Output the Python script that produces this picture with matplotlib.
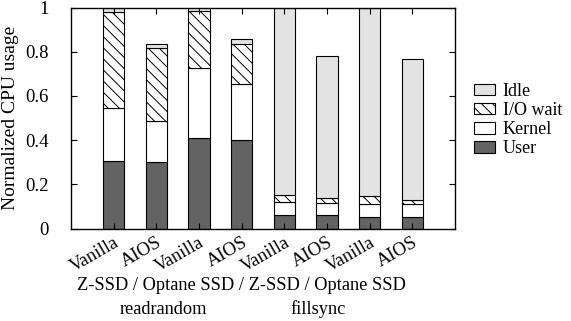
import matplotlib
matplotlib.use("Agg")
import matplotlib.pyplot as plt
import numpy as np

plt.rcParams['font.family'] = ['Liberation Serif', 'DejaVu Serif']
plt.rcParams['hatch.linewidth'] = 0.7

labels = ["Vanilla", "AIOS", "Vanilla", "AIOS", "Vanilla", "AIOS", "Vanilla", "AIOS"]
user = [0.305, 0.300, 0.411, 0.399, 0.062, 0.062, 0.054, 0.054]
kernel = [0.238, 0.188, 0.313, 0.254, 0.057, 0.055, 0.058, 0.055]
iowait = [0.438, 0.331, 0.260, 0.184, 0.031, 0.022, 0.036, 0.022]
idle = [0.019, 0.018, 0.016, 0.019, 0.850, 0.642, 0.852, 0.635]
devices_label = "Z-SSD / Optane SSD / Z-SSD / Optane SSD"
workloads = ["readrandom", "fillsync"]

fs = 13.2
fig = plt.figure(figsize=(5.71, 3.21), dpi=100)
ax = fig.add_axes([71/571, 1-228.5/321, (455-71)/571, (228.5-7.5)/321])

x = np.arange(1, len(labels)+1)
w = 0.5
b1 = np.array(user)
b2 = b1 + np.array(kernel)
b3 = b2 + np.array(iowait)
h_user = ax.bar(x, user, w, color='#636363', edgecolor='black', linewidth=0.8, label='User')
h_kern = ax.bar(x, kernel, w, bottom=b1, color='white', edgecolor='black', linewidth=0.8, label='Kernel')
h_io = ax.bar(x, iowait, w, bottom=b2, color='white', edgecolor='black', linewidth=0.8, hatch='\\\\\\', label='I/O wait')
h_idle = ax.bar(x, idle, w, bottom=b3, color='#e3e3e3', edgecolor='black', linewidth=0.8, label='Idle')

ax.set_xlim(0, len(labels)+1)
ax.set_ylim(0, 1)
ax.set_yticks([0, 0.2, 0.4, 0.6, 0.8, 1.0])
ax.set_yticklabels(['0', '0.2', '0.4', '0.6', '0.8', '1'], fontsize=13.5)
ax.set_xticks(x)
ax.set_xticklabels(labels, rotation=30, ha='right', rotation_mode='anchor', fontsize=13.5)
ax.tick_params(direction='in', top=True, right=True, length=4, width=0.8)
ax.tick_params(axis='x', pad=4)
ax.tick_params(axis='y', pad=16)
for s in ax.spines.values():
    s.set_linewidth(1.0)
ax.set_ylabel('Normalized CPU usage', fontsize=14)
ax.yaxis.set_label_coords(-0.135, 0.5)

fig.text(241/571, 1-285/321, devices_label, ha='center', va='center', fontsize=fs)
fig.text(163/571, 1-309/321, workloads[0], ha='center', va='center', fontsize=fs)
fig.text(318/571, 1-309/321, workloads[1], ha='center', va='center', fontsize=fs)

leg = ax.legend(handles=[h_idle, h_io, h_kern, h_user], loc='center left',
                bbox_to_anchor=(1.03, 0.49), frameon=False, fontsize=13,
                handlelength=1.2, handleheight=0.6, handletextpad=0.4,
                labelspacing=0.12, borderaxespad=0)

fig.savefig('out.png', dpi=100)
